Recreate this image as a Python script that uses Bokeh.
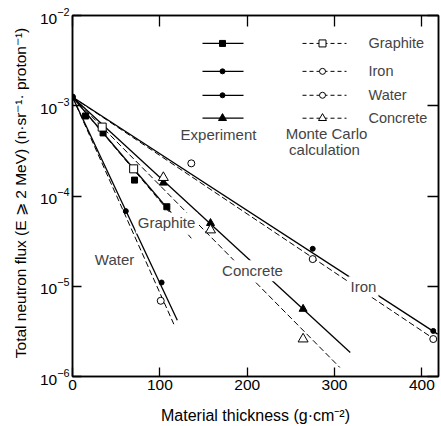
from bokeh.plotting import figure
from bokeh.models import (Range1d, FixedTicker, LinearAxis, LogAxis, Label,
                          CustomJSTickFormatter)
from bokeh.embed import file_html
from bokeh.resources import INLINE
import math

# ---------------- data ----------------
source_x = 0.0
source_flux = 1.25e-3          # common starting point of all fit lines

graphite_exp_x = [15, 35, 71, 108]
graphite_exp_y = [7.7e-4, 5.0e-4, 1.5e-4, 7.6e-5]
graphite_mc_x = [34, 70]
graphite_mc_y = [5.8e-4, 2.0e-4]

iron_exp_x = [275, 413]
iron_exp_y = [2.6e-5, 3.2e-6]
iron_mc_x = [136, 275, 413]
iron_mc_y = [2.3e-4, 2.0e-5, 2.6e-6]

water_exp_x = [61, 102]
water_exp_y = [6.8e-5, 1.1e-5]
water_mc_x = [101]
water_mc_y = [6.9e-6]

concrete_exp_x = [104, 158, 264]
concrete_exp_y = [1.4e-4, 5.0e-5, 5.6e-6]
concrete_mc_x = [104, 158, 264]
concrete_mc_y = [1.6e-4, 4.2e-5, 2.6e-6]

# end points of the fitted lines (experiment = solid, Monte Carlo = dashed)
materials = ["Graphite", "Iron", "Water", "Concrete"]
exp_fit_end_x = [128, 418, 120, 318]
exp_fit_end_y = [4.4e-5, 2.95e-6, 4.2e-6, 1.84e-6]
mc_fit_end_x = [136, 418, 116, 306]
mc_fit_end_y = [3.4e-5, 2.45e-6, 3.8e-6, 1.26e-6]

x_ticks = [0, 100, 200, 300, 400]
y_ticks = [1e-6, 1e-5, 1e-4, 1e-3, 1e-2]

# ---------------- layout helpers ----------------
W, H = 441, 426
LEFT, RIGHT, TOP, BOTTOM = 72, 3, 15, 49
X_MIN, X_MAX = 0, 419
Y_MIN, Y_MAX = 1e-6, 1e-2
FW = W - LEFT - RIGHT
FH = H - TOP - BOTTOM


def px2x(px):
    return X_MIN + (px - LEFT) / FW * (X_MAX - X_MIN)


def py2y(py):
    lo, hi = math.log10(Y_MIN), math.log10(Y_MAX)
    return 10 ** (hi - (py - TOP) / FH * (hi - lo))


FONT = "Liberation Sans"

p = figure(width=W, height=H, y_axis_type="log",
           x_range=Range1d(X_MIN, X_MAX), y_range=Range1d(Y_MIN, Y_MAX),
           output_backend="svg", toolbar_location=None,
           min_border_left=LEFT, min_border_right=RIGHT,
           min_border_top=TOP, min_border_bottom=BOTTOM,
           background_fill_color="white", border_fill_color="white")
p.grid.visible = False
p.outline_line_color = "black"
p.outline_line_width = 1.5

# main axes
xa = p.xaxis[0]
ya = p.yaxis[0]
xa.ticker = FixedTicker(ticks=x_ticks)
ya.ticker = FixedTicker(ticks=y_ticks)
for ax in (xa, ya):
    ax.major_tick_in = 9
    ax.major_tick_out = 0
    ax.minor_tick_line_color = None
    ax.axis_line_width = 1.5
    ax.major_tick_line_width = 1.3
    ax.major_label_text_font = FONT
    ax.major_label_text_font_size = "15.5px"
    ax.major_label_text_color = "black"
    ax.axis_label_text_font = FONT
    ax.axis_label_text_font_style = "normal"
    ax.axis_label_text_color = "black"
    ax.major_label_standoff = 3
xa.axis_label_text_font_size = "16px"
ya.axis_label_text_font_size = "15.5px"
xa.axis_label = "Material thickness (g·cm⁻²)"
ya.axis_label = "Total neutron flux (E ⩾ 2 MeV) (n·sr⁻¹· proton⁻¹)"
xa.axis_label_standoff = 14
ya.axis_label_standoff = 8

blank = CustomJSTickFormatter(code="return ''")
top_ax = LinearAxis(ticker=FixedTicker(ticks=x_ticks), formatter=blank,
                    major_tick_in=11, major_tick_out=0, minor_tick_line_color=None,
                    major_label_standoff=0, axis_line_width=1.5, major_tick_line_width=1.3)
right_ax = LogAxis(ticker=FixedTicker(ticks=y_ticks), formatter=blank,
                   major_tick_in=11, major_tick_out=0, minor_tick_line_color=None,
                   major_label_standoff=0, axis_line_width=1.5, major_tick_line_width=1.3)
p.add_layout(top_ax, "above")
p.add_layout(right_ax, "right")

# ---------------- fit lines ----------------
for i, m in enumerate(materials):
    p.line([source_x, exp_fit_end_x[i]], [source_flux, exp_fit_end_y[i]],
           line_color="black", line_width=1.3)
    p.line([source_x, mc_fit_end_x[i]], [source_flux, mc_fit_end_y[i]],
           line_color="black", line_width=1.0, line_dash="6 3")

# ---------------- points ----------------
p.scatter([source_x], [source_flux], marker="circle", size=6, color="black")
p.scatter(graphite_exp_x, graphite_exp_y, marker="square", size=6, color="black")
p.scatter(graphite_mc_x, graphite_mc_y, marker="square", size=8,
          line_color="black", fill_color="white", line_width=1)
p.scatter(iron_exp_x, iron_exp_y, marker="circle", size=5, color="black")
p.scatter(iron_mc_x, iron_mc_y, marker="circle", size=7,
          line_color="black", fill_color="white", line_width=1)
p.scatter(water_exp_x, water_exp_y, marker="circle", size=5, color="black")
p.scatter(water_mc_x, water_mc_y, marker="circle", size=7,
          line_color="black", fill_color="white", line_width=1)
p.scatter(concrete_exp_x, concrete_exp_y, marker="triangle", size=8, color="black")
p.scatter(concrete_mc_x, concrete_mc_y, marker="triangle", size=10,
          line_color="black", fill_color="white", line_width=1)

# ---------------- curve labels (white background breaks the lines) ----------------
curve_labels = [("Graphite", 166, 223), ("Water", 114, 260),
                ("Concrete", 252, 271), ("Iron", 363, 287)]
for txt, cx, cy in curve_labels:
    p.add_layout(Label(x=px2x(cx), y=py2y(cy), text=txt, text_align="center",
                       text_baseline="middle", text_font=FONT, text_font_size="15px",
                       background_fill_color="white", padding=2))

# ---------------- custom legend ----------------
rows_py = [43, 71, 95, 118]
exp_markers = [("square", 6, "black"), ("circle", 5, "black"),
               ("circle", 5, "black"), ("triangle", 8, "black")]
mc_markers = [("square", 7, "white"), ("circle", 6, "white"),
              ("circle", 6, "white"), ("triangle", 8, "white")]
for i, m in enumerate(materials):
    yy = py2y(rows_py[i])
    p.line([px2x(202), px2x(243)], [yy, yy], line_color="black", line_width=1.3)
    mk, sz, fc = exp_markers[i]
    p.scatter([px2x(222)], [yy], marker=mk, size=sz, color=fc, line_color="black")
    p.line([px2x(302), px2x(346)], [yy, yy], line_color="black", line_width=1.0,
           line_dash="4 3")
    mk, sz, fc = mc_markers[i]
    p.scatter([px2x(322)], [yy], marker=mk, size=sz, fill_color=fc,
              line_color="black", line_width=1)
    p.add_layout(Label(x=px2x(368), y=yy, text=m, text_align="left",
                       text_baseline="middle", text_font=FONT, text_font_size="14.5px"))

for txt, cx, cy in [("Experiment", 218, 134), ("Monte Carlo", 326, 133),
                    ("calculation", 324, 149)]:
    p.add_layout(Label(x=px2x(cx), y=py2y(cy), text=txt, text_align="center",
                       text_baseline="middle", text_font=FONT, text_font_size="15px"))

open("out.html", "w").write(file_html(p, INLINE))
